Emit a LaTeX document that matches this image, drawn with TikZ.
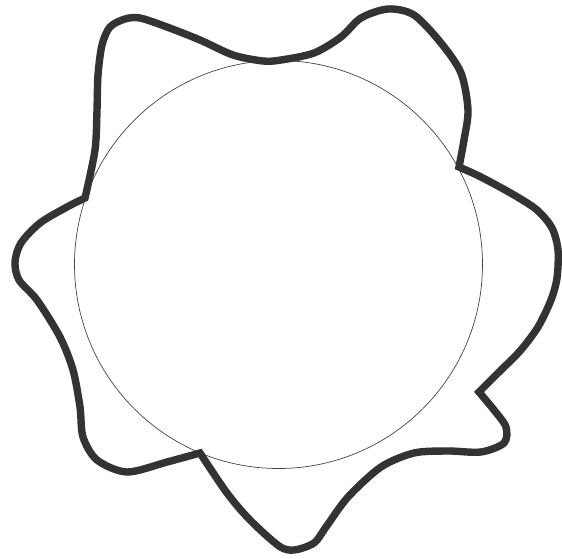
\documentclass[tikz,border=0pt]{standalone}
\definecolor{blob}{HTML}{333333}
\definecolor{ring}{HTML}{444444}
\tikzset{
  blobline/.style={draw=blob, line width=7.4pt, line join=miter},
  ringline/.style={draw=ring, line width=0.7pt}
}
\begin{document}
\begin{tikzpicture}[x=1pt,y=-1pt]
\useasboundingbox (0,0) rectangle (562,559);
\draw[ringline] (278.5,264.5) circle[radius=204];
\draw[blobline]
  plot[smooth] coordinates {(85,198) (95,150) (97,110) (98,75) (102,45) (110,27) (125,19) (140,18) (167,27) (200,40) (233,55) (263,61) (281,60) (314,53) (341,37) (361,18) (388,9) (414,15) (441,43) (461,73) (468,110) (464,140) (459,167)}
  -- plot[smooth] coordinates {(459,167) (481,177) (514,195) (537,210) (552,228) (558,250) (557,278) (551,300) (538,327) (520,351) (498,373) (479,392)}
  -- plot[smooth] coordinates {(479,392) (494,410) (506,427) (504,443) (481,452) (448,451) (414,453) (381,467) (348,497) (326,527) (314,543) (294,550) (279,546) (250,520) (227,493) (200,453)}
  -- plot[smooth] coordinates {(200,453) (167,462) (127,472) (97,460) (83,437) (80,407) (73,370) (60,337) (37,300) (19,280) (15,262) (21,243) (40,223) (67,207) (85,198)}
  -- cycle;
\end{tikzpicture}
\end{document}
